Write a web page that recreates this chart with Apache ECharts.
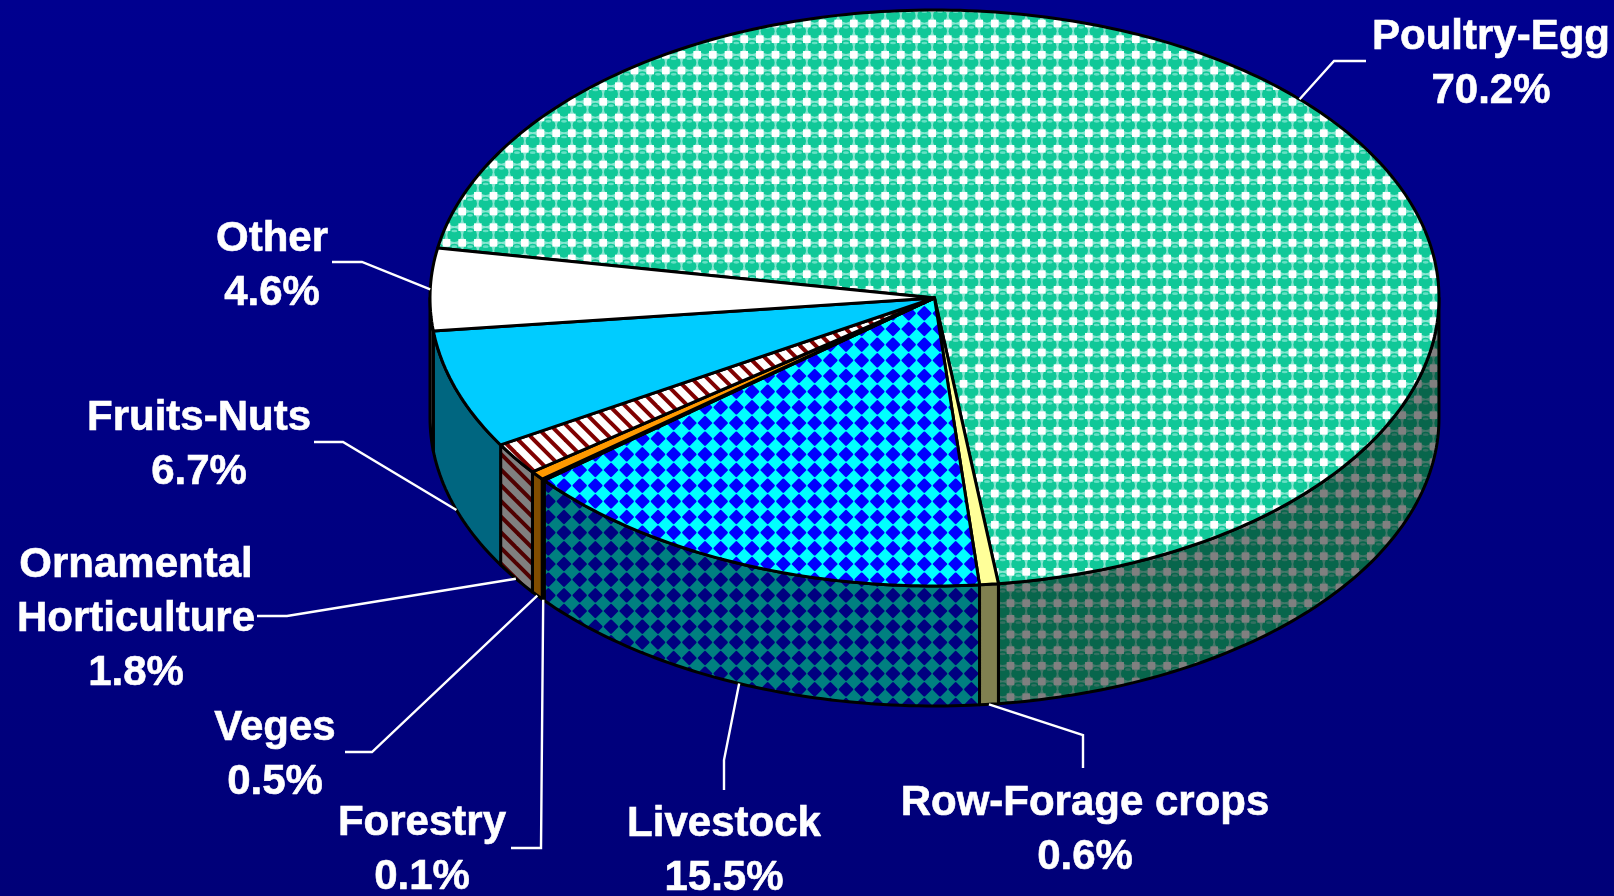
<!DOCTYPE html>
<html>
<head>
<meta charset="utf-8">
<title>Poultry-Egg share</title>
<style>
  html, body { margin: 0; padding: 0; background: #000080; }
  #chart { width: 1614px; height: 896px; }
</style>
<script src="https://cdn.jsdelivr.net/npm/echarts@6/dist/echarts.min.js"></script>
</head>
<body>
<div id="chart"></div>
<script>
// data, clockwise from the Other/Poultry boundary
const categories = ['Poultry-Egg', 'Row-Forage crops', 'Livestock', 'Forestry', 'Veges', 'Ornamental\nHorticulture', 'Fruits-Nuts', 'Other'];
const shares = [70.2, 0.6, 15.5, 0.1, 0.5, 1.8, 6.7, 4.6];

// layout (pixels)
const startAngle = -170;
const depth = 120;
const labelSpots = [[1491, 64], [1085, 830], [724, 851], [422, 850], [275, 755], [136, 619], [199, 445], [272, 266]];
const leaderKnees = [
  [[1366, 61], [1334, 61]],
  [[1083, 768], [1083, 735]],
  [[724, 790], [724, 760]],
  [[511, 848], [541, 848]],
  [[345, 752], [372, 752]],
  [[257, 616], [287, 616]],
  [[314, 442], [343, 442]],
  [[332, 262], [362, 262]]
];
const leaderOnWall = [false, true, true, true, true, true, true, false];

// tile patterns
const tile = 47;
const period = tile / 3;

function newTile(bg) {
  const c = document.createElement('canvas');
  c.width = c.height = tile;
  const ctx = c.getContext('2d');
  ctx.fillStyle = bg;
  ctx.fillRect(0, 0, tile, tile);
  return [c, ctx];
}

function lattice(draw) {
  for (let i = -1; i <= 3; i++) {
    for (let j = -1; j <= 3; j++) {
      draw(i * period, j * period);
    }
  }
}

function balls(bg, square, ball, shine) {
  const [c, ctx] = newTile(bg);
  lattice((x, y) => {
    ctx.fillStyle = ball;
    ctx.beginPath();
    ctx.arc(x, y, 7, 0, Math.PI * 2);
    ctx.fill();
    ctx.fillStyle = shine;
    ctx.beginPath();
    ctx.ellipse(x, y - 4, 3, 1.3, 0, 0, Math.PI * 2);
    ctx.fill();
  });
  ctx.fillStyle = square;
  lattice((x, y) => ctx.fillRect(x + period / 2 - 3.8, y + period / 2 - 3.8, 7.6, 7.6));
  return { image: c, repeat: 'repeat' };
}

function diamonds(bg, fg) {
  const [c, ctx] = newTile(bg);
  ctx.fillStyle = fg;
  ctx.strokeStyle = fg;
  ctx.lineWidth = 2.4;
  ctx.lineJoin = 'round';
  lattice((x, y) => {
    const r = 6;
    ctx.beginPath();
    ctx.moveTo(x - r, y);
    ctx.lineTo(x, y - r);
    ctx.lineTo(x + r, y);
    ctx.lineTo(x, y + r);
    ctx.closePath();
    ctx.fill();
    ctx.stroke();
  });
  return { image: c, repeat: 'repeat' };
}

function stripes(bg, fg) {
  const [c, ctx] = newTile(bg);
  ctx.strokeStyle = fg;
  ctx.lineWidth = 4;
  for (let i = -3; i <= 3; i++) {
    ctx.beginPath();
    ctx.moveTo(i * period - 5, -5);
    ctx.lineTo(i * period + tile + 5, tile + 5);
    ctx.stroke();
  }
  return { image: c, repeat: 'repeat' };
}

const topFills = [
  balls('#88e6d0', '#ffffff', '#10c898', '#66e0c4'),
  '#ffff99',
  diamonds('#00ffff', '#0000ff'),
  '#cc6600',
  '#ff9900',
  stripes('#ffffff', '#800000'),
  '#00ccff',
  '#ffffff'
];
const wallFills = [
  balls('#447668', '#808080', '#08664c', '#337060'),
  '#808050',
  diamonds('#008080', '#000080'),
  '#663300',
  '#804c00',
  stripes('#808080', '#500000'),
  '#006680',
  '#808080'
];

function arc(api, from, to, drop) {
  const pts = [];
  const n = Math.max(2, Math.ceil(Math.abs(to - from)));
  for (let k = 0; k <= n; k++) {
    const t = (from + (to - from) * k / n) * Math.PI / 180;
    const p = api.coord([Math.cos(t), Math.sin(t)]);
    pts.push([p[0], p[1] + drop]);
  }
  return pts;
}

function renderSlice(params, api) {
  const i = params.dataIndex;
  const before = shares.slice(0, i).reduce((a, b) => a + b, 0);
  const total = shares.reduce((a, b) => a + b, 0);
  const a0 = startAngle + before / total * 360;
  const a1 = a0 + api.value(1) / total * 360;
  const mid = (a0 + a1) / 2;
  const edge = { stroke: '#000000', lineWidth: 3, lineJoin: 'round' };
  const children = [];

  // only the front half of the rim shows a wall
  const w0 = Math.max(a0, 0);
  const w1 = Math.min(a1, 180);
  if (w1 > w0) {
    const wall = arc(api, w0, w1, 0).concat(arc(api, w1, w0, depth));
    children.push({
      type: 'polygon',
      z2: 1,
      shape: { points: wall },
      style: Object.assign({ fill: wallFills[i] }, edge)
    });
  }

  const centre = api.coord([0, 0]);
  children.push({
    type: 'polygon',
    z2: 2,
    shape: { points: [centre].concat(arc(api, a0, a1, 0)) },
    style: Object.assign({ fill: topFills[i] }, edge)
  });

  // leader line ends on the slice's mid angle
  const end = arc(api, mid, mid, leaderOnWall[i] ? depth : 0)[0];
  children.push({
    type: 'polyline',
    z2: 3,
    shape: { points: leaderKnees[i].concat([end]) },
    style: { stroke: '#ffffff', lineWidth: 2.4, fill: null }
  });

  children.push({
    type: 'text',
    z2: 4,
    style: {
      x: labelSpots[i][0],
      y: labelSpots[i][1],
      text: categories[i] + '\n' + shares[i].toFixed(1) + '%',
      fill: '#ffffff',
      stroke: '#ffffff',
      lineWidth: 0.6,
      fontFamily: 'Liberation Sans',
      fontWeight: 'bold',
      fontSize: 42,
      lineHeight: 54,
      align: 'center',
      verticalAlign: 'middle'
    }
  });

  return { type: 'group', children: children };
}

const chart = echarts.init(document.getElementById('chart'));
chart.setOption({
  animation: false,
  backgroundColor: {
    type: 'linear',
    x: 0,
    y: 0,
    x2: 0,
    y2: 1,
    colorStops: [
      { offset: 0, color: '#00008f' },
      { offset: 1, color: '#000078' }
    ]
  },
  grid: { left: 430, top: 10, width: 1009, height: 576 },
  xAxis: { type: 'value', min: -1, max: 1, show: false },
  yAxis: { type: 'value', min: -1, max: 1, inverse: true, show: false },
  series: [{
    type: 'custom',
    clip: false,
    silent: true,
    renderItem: renderSlice,
    encode: { x: 0, y: 0 },
    data: shares.map((v, i) => [0, v])
  }]
});
</script>
</body>
</html>
